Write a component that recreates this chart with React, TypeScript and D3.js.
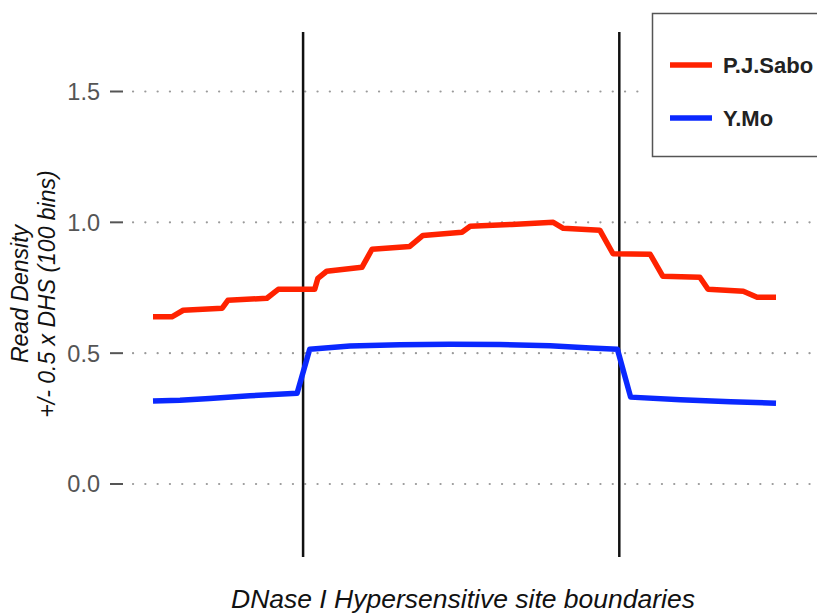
import React from "react";
import * as d3 from "d3";

// Read density profiles across DNase I hypersensitive sites (bin index 1..100)
const saboBins = [1, 4, 5.8, 12, 12.9, 19.1, 20.9, 26.7, 27.2, 28.6, 34.2, 35.8, 41.8, 43.9, 50.1, 51.4, 58, 64.6, 66.2, 72, 74.1, 80, 82, 87.9, 89.2, 94.8, 97, 100];
const saboValues = [0.639, 0.639, 0.664, 0.672, 0.702, 0.71, 0.744, 0.744, 0.786, 0.813, 0.828, 0.897, 0.908, 0.95, 0.962, 0.985, 0.992, 1.0, 0.977, 0.97, 0.88, 0.878, 0.794, 0.79, 0.744, 0.737, 0.714, 0.714];

const moBins = [1, 5.3, 10, 16.4, 23.9, 25.9, 32.3, 40.2, 48.2, 56.1, 64.1, 70.5, 74.8, 76.9, 84.8, 92.8, 100];
const moValues = [0.317, 0.32, 0.327, 0.337, 0.347, 0.515, 0.527, 0.532, 0.534, 0.533, 0.528, 0.52, 0.515, 0.332, 0.322, 0.314, 0.309];

const boundaries = [24.85, 75.1];
const yTicks = [0, 0.5, 1.0, 1.5];
const seriesNames = ["P.J.Sabo", "Y.Mo"];
const seriesColors = ["#ff2200", "#0a28ff"];

const W = 817;
const H = 614;

export default function App() {
  const x = d3.scaleLinear().domain([1, 100]).range([153, 776]);
  const y = d3.scaleLinear().domain([0, 1.5]).range([484, 91.5]);

  const line = d3
    .line<[number, number]>()
    .x((d) => x(d[0]))
    .y((d) => y(d[1]))
    .curve(d3.curveLinear);

  const saboPts: [number, number][] = saboBins.map((b, i) => [b, saboValues[i]]);
  const moPts: [number, number][] = moBins.map((b, i) => [b, moValues[i]]);

  const font = "'Liberation Sans', Arial, sans-serif";

  return (
    <svg
      width={W}
      height={H}
      style={{ position: "absolute", left: 0, top: 0, display: "block", background: "#fff" }}
      fontFamily={font}
    >
      {/* dotted grid lines */}
      {yTicks.map((t) => (
        <line
          key={"g" + t}
          x1={133}
          x2={t === 1.5 ? 645 : 812}
          y1={y(t)}
          y2={y(t)}
          stroke="#9a9a9a"
          strokeWidth={2.2}
          strokeDasharray="0.1 12.2"
          strokeLinecap="round"
        />
      ))}

      {/* y ticks and labels */}
      {yTicks.map((t) => (
        <g key={"t" + t}>
          <line x1={110} x2={123} y1={y(t)} y2={y(t)} stroke="#555" strokeWidth={2} />
          <text
            x={100}
            y={y(t)}
            dy="0.36em"
            textAnchor="end"
            fontSize={23.5}
            fill="#555"
          >
            {d3.format(".1f")(t)}
          </text>
        </g>
      ))}

      {/* DHS boundary markers */}
      {boundaries.map((b) => (
        <line key={"b" + b} x1={x(b)} x2={x(b)} y1={32} y2={557} stroke="#111" strokeWidth={2.5} />
      ))}

      {/* profiles */}
      <path d={line(moPts) || ""} fill="none" stroke={seriesColors[1]} strokeWidth={5.5} strokeLinejoin="round" />
      <path d={line(saboPts) || ""} fill="none" stroke={seriesColors[0]} strokeWidth={5.5} strokeLinejoin="round" />

      {/* axis titles */}
      <text
        transform="translate(28,294) rotate(-90)"
        textAnchor="middle"
        fontSize={23}
        fontStyle="italic"
        fill="#111"
      >
        Read Density
      </text>
      <text
        transform="translate(55,294) rotate(-90)"
        textAnchor="middle"
        fontSize={23}
        fontStyle="italic"
        fill="#111"
      >
        +/- 0.5 x DHS (100 bins)
      </text>
      <text x={463} y={608} textAnchor="middle" fontSize={26.5} fontStyle="italic" fill="#111">
        DNase I Hypersensitive site boundaries
      </text>

      {/* legend */}
      <rect x={652.5} y={13.5} width={180} height={143} fill="#fff" stroke="#555" strokeWidth={1.5} />
      {seriesNames.map((n, i) => (
        <g key={n}>
          <line x1={670} x2={712} y1={65 + i * 53} y2={65 + i * 53} stroke={seriesColors[i]} strokeWidth={5.5} />
          <text x={723} y={65 + i * 53} dy="0.36em" fontSize={22} fontWeight="bold" fill="#222">
            {n}
          </text>
        </g>
      ))}
    </svg>
  );
}
